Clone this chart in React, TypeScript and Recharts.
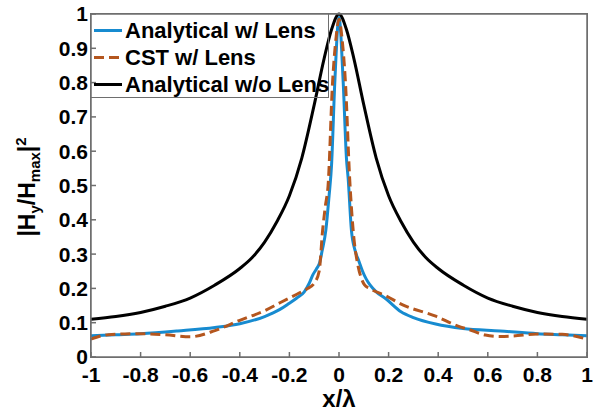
import { LineChart, Line, XAxis, YAxis } from "recharts";

const xTicks = [-1, -0.8, -0.6, -0.4, -0.2, 0, 0.2, 0.4, 0.6, 0.8, 1];
const yTicks = [0, 0.1, 0.2, 0.3, 0.4, 0.5, 0.6, 0.7, 0.8, 0.9, 1];

// Analytical w/ Lens
const lensX = [
  -1, -0.9, -0.8, -0.65, -0.5, -0.4, -0.3, -0.24, -0.2, -0.17, -0.14, -0.12, -0.105, -0.09,
  -0.078, -0.068, -0.053, -0.04, -0.03, -0.017, 0, 0.017, 0.03, 0.037, 0.05, 0.065, 0.08,
  0.095, 0.11, 0.125, 0.15, 0.19, 0.25, 0.3, 0.39, 0.5, 0.65, 0.8, 0.9, 1,
];
const lensY = [
  0.062, 0.065, 0.068, 0.076, 0.086, 0.097, 0.118, 0.138, 0.157, 0.172, 0.19, 0.215, 0.24, 0.258,
  0.275, 0.31, 0.37, 0.47, 0.56, 0.8, 0.99, 0.8, 0.58, 0.52, 0.37, 0.31, 0.28,
  0.25, 0.227, 0.21, 0.19, 0.169, 0.132, 0.115, 0.096, 0.083, 0.076, 0.068, 0.065, 0.062,
];

// CST w/ Lens
const cstX = [
  -1, -0.93, -0.8, -0.7, -0.6, -0.5, -0.4, -0.3, -0.236, -0.17, -0.13, -0.1, -0.08, -0.066,
  -0.055, -0.044, -0.026, -0.012, 0, 0.012, 0.026, 0.043, 0.057, 0.077, 0.09, 0.103, 0.123,
  0.19, 0.257, 0.39, 0.48, 0.524, 0.59, 0.65, 0.7, 0.8, 0.9, 1,
];
const cstY = [
  0.052, 0.065, 0.068, 0.065, 0.059, 0.077, 0.107, 0.135, 0.159, 0.183, 0.198, 0.215, 0.25, 0.37,
  0.44, 0.5, 0.8, 0.93, 0.985, 0.93, 0.8, 0.52, 0.37, 0.265, 0.23, 0.21, 0.2,
  0.178, 0.152, 0.119, 0.09, 0.08, 0.064, 0.06, 0.061, 0.067, 0.066, 0.052,
];

// Analytical w/o Lens
const freeX = [
  -1, -0.9, -0.8, -0.7, -0.6, -0.5, -0.4, -0.35, -0.3, -0.25, -0.2, -0.15, -0.1, -0.06, -0.03, 0,
  0.03, 0.06, 0.1, 0.15, 0.2, 0.25, 0.3, 0.35, 0.4, 0.5, 0.6, 0.7, 0.8, 0.9, 1,
];
const freeY = [
  0.11, 0.118, 0.13, 0.148, 0.172, 0.21, 0.258, 0.29, 0.335, 0.395, 0.47, 0.58, 0.735, 0.87, 0.955, 1.0,
  0.955, 0.87, 0.735, 0.58, 0.47, 0.395, 0.335, 0.29, 0.258, 0.21, 0.172, 0.148, 0.13, 0.118, 0.11,
];

const FONT = '"Liberation Sans", Arial, sans-serif';
const AXIS = "#6e6e6e";

const series = [
  { key: "lens", name: "Analytical w/ Lens", color: "#178bd0", dash: undefined, xs: lensX, ys: lensY },
  { key: "cst", name: "CST w/ Lens", color: "#b4561e", dash: "10 5", xs: cstX, ys: cstY },
  { key: "free", name: "Analytical w/o Lens", color: "#000000", dash: undefined, xs: freeX, ys: freeY },
];

// one table keyed by x, each series filling its own column
const byX = new Map<number, Record<string, number>>();
series.forEach((s) =>
  s.xs.forEach((x, i) => {
    const row = byX.get(x) || { x };
    row[s.key] = s.ys[i];
    byX.set(x, row);
  })
);
const data = Array.from(byX.values()).sort((a, b) => a.x - b.x);

const frame = { stroke: AXIS, strokeWidth: 1.5 };

function LegendBox() {
  return (
    <div
      style={{
        position: "absolute",
        left: 91,
        top: 14,
        width: 238,
        height: 84,
        boxSizing: "border-box",
        borderRight: `1px solid ${AXIS}`,
        borderBottom: `1px solid ${AXIS}`,
        fontSize: 22,
        pointerEvents: "none",
      }}
    >
      {series.map((s, i) => (
        <div
          key={s.key}
          style={{
            position: "absolute",
            left: 0,
            top: 3 + i * 27,
            height: 27,
            display: "flex",
            alignItems: "center",
            whiteSpace: "nowrap",
          }}
        >
          <svg width={32} height={27} style={{ display: "block" }}>
            <line
              x1={3}
              x2={31}
              y1={13.5}
              y2={13.5}
              stroke={s.color}
              strokeWidth={3}
              strokeDasharray={s.dash}
            />
          </svg>
          <span style={{ marginLeft: 2 }}>{s.name}</span>
        </div>
      ))}
    </div>
  );
}

export default function App() {
  return (
    <div
      style={{
        position: "absolute",
        left: 0,
        top: 0,
        width: 599,
        height: 411,
        background: "#fff",
        fontFamily: FONT,
        fontWeight: 700,
        fontSize: 21,
      }}
    >
      <LineChart width={599} height={411} margin={{ top: 13, right: 11, bottom: 0, left: 0 }} data={data}>
        <XAxis
          dataKey="x"
          type="number"
          domain={[-1, 1]}
          ticks={xTicks}
          height={54}
          tickSize={-5}
          tickMargin={15}
          stroke="#000"
          axisLine={frame}
          tickLine={frame}
        />
        <XAxis
          xAxisId="top"
          orientation="top"
          dataKey="x"
          type="number"
          domain={[-1, 1]}
          ticks={xTicks}
          tick={false}
          height={1}
          tickSize={-5}
          stroke="#000"
          axisLine={frame}
          tickLine={frame}
        />
        <YAxis
          type="number"
          domain={[0, 1]}
          ticks={yTicks}
          width={91}
          tickSize={-5}
          tickMargin={8}
          stroke="#000"
          axisLine={frame}
          tickLine={frame}
        />
        <YAxis
          yAxisId="right"
          orientation="right"
          type="number"
          domain={[0, 1]}
          ticks={yTicks}
          tick={false}
          width={1}
          tickSize={-5}
          stroke="#000"
          axisLine={frame}
          tickLine={frame}
        />
        {series.map((s) => (
          <Line
            key={s.key}
            dataKey={s.key}
            name={s.name}
            type="monotone"
            connectNulls
            stroke={s.color}
            strokeWidth={3}
            strokeDasharray={s.dash}
            dot={false}
            activeDot={false}
            isAnimationActive={false}
          />
        ))}
      </LineChart>
      {/* plot box */}
      <div
        style={{
          position: "absolute",
          left: 90,
          top: 13,
          width: 498,
          height: 345,
          boxSizing: "border-box",
          border: `1px solid ${AXIS}`,
          pointerEvents: "none",
        }}
      />
      <LegendBox />
      <div
        style={{
          position: "absolute",
          left: 91,
          width: 496,
          top: 386,
          textAlign: "center",
          fontSize: 24,
          lineHeight: "25px",
        }}
      >
        x/λ
      </div>
      <div
        style={{
          position: "absolute",
          left: 28,
          top: 187,
          transform: "translate(-50%, -50%) rotate(-90deg)",
          whiteSpace: "nowrap",
          fontSize: 23,
          lineHeight: "26px",
        }}
      >
        |H<sub style={{ fontSize: 15 }}>y</sub>/H<sub style={{ fontSize: 15 }}>max</sub>|
        <sup style={{ fontSize: 15 }}>2</sup>
      </div>
    </div>
  );
}
